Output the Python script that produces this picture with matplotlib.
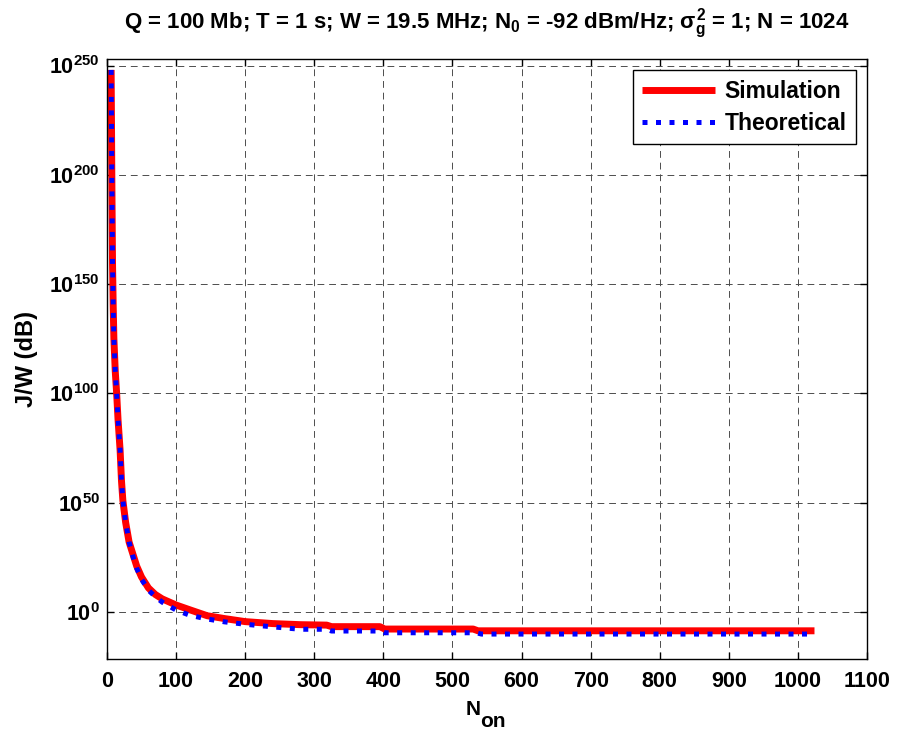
import math

import matplotlib
matplotlib.use('Agg')
import matplotlib.pyplot as plt
from matplotlib.ticker import FixedLocator, FuncFormatter, NullLocator

# N_on values and log10(J/W)
n_sim = [6, 6.5, 7, 7.5, 8, 9, 10, 12, 14, 16, 19, 21, 23, 27, 32, 37, 43, 50, 60, 70, 80,
         100, 120, 145, 170, 200, 240, 280, 318, 325, 395, 402, 530, 537, 1024]
exp_sim = [248, 225, 200, 180, 160, 140, 125, 110, 100, 88, 74, 60, 51, 41, 32, 27, 21, 16, 11, 8, 6,
           3.2, 1, -1.7, -3, -4.4, -5.3, -5.8, -6.0, -6.7, -6.7, -7.8, -7.8, -8.6, -8.6]

n_th = [6, 6.5, 7, 7.5, 8, 9, 10, 12, 14, 16, 19, 21, 23, 27, 32, 37, 43, 50, 60, 70, 80,
        100, 120, 145, 170, 200, 240, 280, 318, 325, 395, 402, 535, 542, 1024]
exp_th = [248, 225, 200, 180, 160, 140, 125, 110, 100, 88, 74, 60, 51, 41, 32, 26, 20, 15, 10, 7, 4.5,
          0.9, -1.5, -3.2, -4.5, -5.6, -6.8, -7.9, -7.9, -8.7, -8.7, -9.5, -9.5, -10.1, -10.1]

x_ticks = [0, 100, 200, 300, 400, 500, 600, 700, 800, 900, 1000, 1100]
y_tick_exps = [0, 50, 100, 150, 200, 250]

title = (r'Q = 100 Mb; T = 1 s; W = 19.5 MHz; N$_0$ = -92 dBm/Hz; '
         r'$\sigma_g^2$ = 1; N = 1024')

plt.rcParams['font.family'] = ['Liberation Sans', 'DejaVu Sans']
plt.rcParams['font.weight'] = 'bold'
plt.rcParams['mathtext.fontset'] = 'custom'
plt.rcParams['mathtext.rm'] = 'Liberation Sans:bold'
plt.rcParams['mathtext.it'] = 'Liberation Sans:bold'
plt.rcParams['mathtext.bf'] = 'Liberation Sans:bold'
plt.rcParams['mathtext.sf'] = 'Liberation Sans:bold'


def main():
    fig = plt.figure(figsize=(8.99, 7.31), dpi=100)
    ax = fig.add_axes([0.119, 0.0985, 0.8454, 0.8208])

    y_sim = [10.0 ** e for e in exp_sim]
    y_th = [10.0 ** e for e in exp_th]
    ax.plot(n_sim, y_sim, color='red', linewidth=5, solid_capstyle='butt', label='Simulation')
    ax.plot(n_th, y_th, color='blue', linewidth=3.6, linestyle=(0, (1, 1.7)),
            dash_capstyle='butt', label='Theoretical')

    ax.set_yscale('log')
    ax.set_xlim(0, 1100)
    ax.set_ylim(10.0 ** -21.5, 10.0 ** 253)
    ax.xaxis.set_major_locator(FixedLocator(x_ticks))
    ax.yaxis.set_major_locator(FixedLocator([10.0 ** e for e in y_tick_exps]))
    ax.yaxis.set_minor_locator(NullLocator())
    ax.yaxis.set_major_formatter(FuncFormatter(
        lambda v, pos: r'$\mathbf{10^{%d}}$' % round(math.log10(v))))

    ax.tick_params(which='both', direction='in', top=True, right=True,
                   length=5, width=1, labelsize=15.5)
    ax.tick_params(axis='x', pad=9)
    ax.tick_params(axis='y', pad=5)
    for sp in ax.spines.values():
        sp.set_linewidth(1.0)
    ax.grid(True, color='0.3', linestyle=(0, (7, 5)), linewidth=0.7)

    # N_on with a full-size, lowered subscript as in the original
    ax.text(0.491, -0.093, 'N', transform=ax.transAxes, ha='right', va='baseline', fontsize=15)
    ax.text(0.491, -0.113, 'on', transform=ax.transAxes, ha='left', va='baseline', fontsize=15)
    ax.set_ylabel('J/W (dB)', fontsize=17, fontweight='bold', labelpad=8)
    ax.set_title(title, fontsize=16, fontweight='bold', pad=22)

    leg = ax.legend(loc='upper right', fontsize=16.5, handlelength=3.2, handletextpad=0.4,
                    labelspacing=0.4, fancybox=False, framealpha=1, edgecolor='black',
                    borderaxespad=0.5)
    leg.get_frame().set_linewidth(1.0)

    fig.savefig('out.png', dpi=100)
    plt.close(fig)


if __name__ == '__main__':
    main()
